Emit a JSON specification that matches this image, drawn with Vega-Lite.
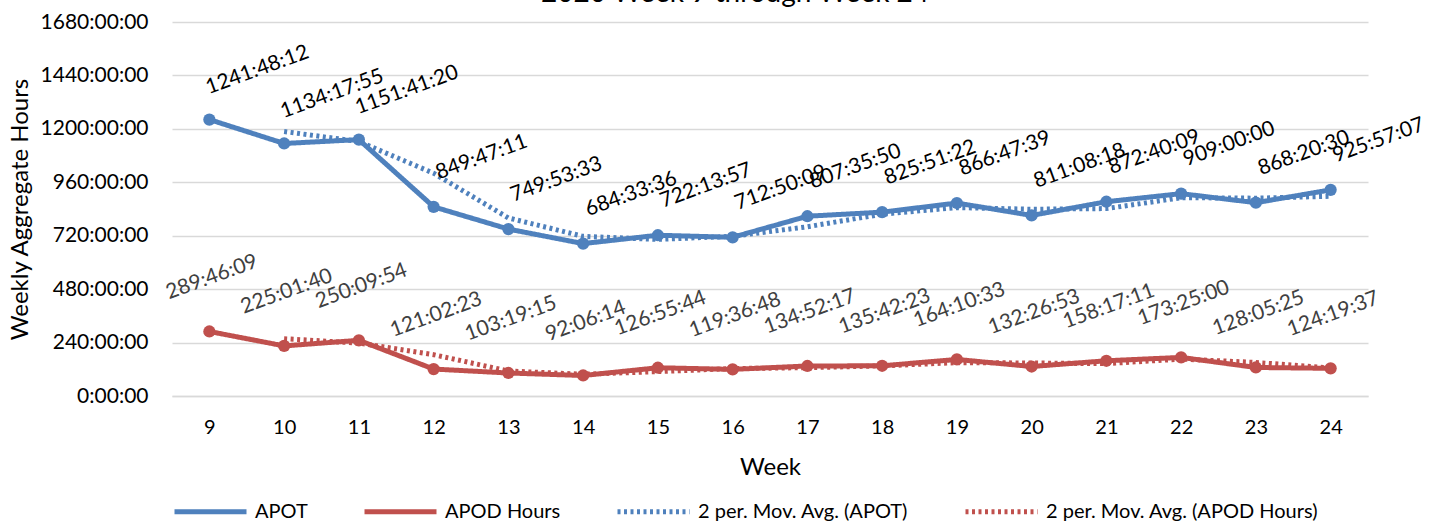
{
  "$schema": "https://vega.github.io/schema/vega-lite/v6.json",
  "width": 1196,
  "height": 374,
  "autosize": "none",
  "padding": {"left": 172, "top": 22, "right": 67, "bottom": 126},
  "background": "white",
  "config": {
    "font": "Lato",
    "view": {"stroke": null},
    "axis": {"labelFont": "Lato", "titleFont": "Lato", "labelColor": "#000000", "titleColor": "#000000", "titleFontWeight": "normal"},
    "legend": {"labelFont": "Lato"}
  },
  "title": {
    "text": "2020 Week 9 through Week 24",
    "fontSize": 28,
    "fontWeight": "normal",
    "font": "Lato",
    "color": "#000000",
    "anchor": "middle",
    "frame": "group",
    "dx": -35,
    "offset": 3
  },
  "data": {
    "values": [
      {"week": 9, "series": "APOT", "hours": 1241.803, "label": "1241:48:12"},
      {"week": 10, "series": "APOT", "hours": 1134.299, "label": "1134:17:55"},
      {"week": 11, "series": "APOT", "hours": 1151.689, "label": "1151:41:20"},
      {"week": 12, "series": "APOT", "hours": 849.786, "label": "849:47:11"},
      {"week": 13, "series": "APOT", "hours": 749.893, "label": "749:53:33"},
      {"week": 14, "series": "APOT", "hours": 684.56, "label": "684:33:36"},
      {"week": 15, "series": "APOT", "hours": 722.233, "label": "722:13:57"},
      {"week": 16, "series": "APOT", "hours": 712.836, "label": "712:50:09"},
      {"week": 17, "series": "APOT", "hours": 807.597, "label": "807:35:50"},
      {"week": 18, "series": "APOT", "hours": 825.856, "label": "825:51:22"},
      {"week": 19, "series": "APOT", "hours": 866.794, "label": "866:47:39"},
      {"week": 20, "series": "APOT", "hours": 811.138, "label": "811:08:18"},
      {"week": 21, "series": "APOT", "hours": 872.669, "label": "872:40:09"},
      {"week": 22, "series": "APOT", "hours": 909.0, "label": "909:00:00"},
      {"week": 23, "series": "APOT", "hours": 868.342, "label": "868:20:30"},
      {"week": 24, "series": "APOT", "hours": 925.952, "label": "925:57:07"},
      {"week": 9, "series": "APOD Hours", "hours": 289.769, "label": "289:46:09"},
      {"week": 10, "series": "APOD Hours", "hours": 225.028, "label": "225:01:40"},
      {"week": 11, "series": "APOD Hours", "hours": 250.165, "label": "250:09:54"},
      {"week": 12, "series": "APOD Hours", "hours": 121.04, "label": "121:02:23"},
      {"week": 13, "series": "APOD Hours", "hours": 103.321, "label": "103:19:15"},
      {"week": 14, "series": "APOD Hours", "hours": 92.104, "label": "92:06:14"},
      {"week": 15, "series": "APOD Hours", "hours": 126.929, "label": "126:55:44"},
      {"week": 16, "series": "APOD Hours", "hours": 119.613, "label": "119:36:48"},
      {"week": 17, "series": "APOD Hours", "hours": 134.871, "label": "134:52:17"},
      {"week": 18, "series": "APOD Hours", "hours": 135.706, "label": "135:42:23"},
      {"week": 19, "series": "APOD Hours", "hours": 164.176, "label": "164:10:33"},
      {"week": 20, "series": "APOD Hours", "hours": 132.448, "label": "132:26:53"},
      {"week": 21, "series": "APOD Hours", "hours": 158.286, "label": "158:17:11"},
      {"week": 22, "series": "APOD Hours", "hours": 173.417, "label": "173:25:00"},
      {"week": 23, "series": "APOD Hours", "hours": 128.09, "label": "128:05:25"},
      {"week": 24, "series": "APOD Hours", "hours": 124.327, "label": "124:19:37"},
      {"week": 10, "series": "2 per. Mov. Avg. (APOT)", "hours": 1188.051},
      {"week": 11, "series": "2 per. Mov. Avg. (APOT)", "hours": 1142.994},
      {"week": 12, "series": "2 per. Mov. Avg. (APOT)", "hours": 1000.738},
      {"week": 13, "series": "2 per. Mov. Avg. (APOT)", "hours": 799.84},
      {"week": 14, "series": "2 per. Mov. Avg. (APOT)", "hours": 717.227},
      {"week": 15, "series": "2 per. Mov. Avg. (APOT)", "hours": 703.397},
      {"week": 16, "series": "2 per. Mov. Avg. (APOT)", "hours": 717.535},
      {"week": 17, "series": "2 per. Mov. Avg. (APOT)", "hours": 760.217},
      {"week": 18, "series": "2 per. Mov. Avg. (APOT)", "hours": 816.727},
      {"week": 19, "series": "2 per. Mov. Avg. (APOT)", "hours": 846.325},
      {"week": 20, "series": "2 per. Mov. Avg. (APOT)", "hours": 838.966},
      {"week": 21, "series": "2 per. Mov. Avg. (APOT)", "hours": 841.904},
      {"week": 22, "series": "2 per. Mov. Avg. (APOT)", "hours": 890.835},
      {"week": 23, "series": "2 per. Mov. Avg. (APOT)", "hours": 888.671},
      {"week": 24, "series": "2 per. Mov. Avg. (APOT)", "hours": 897.147},
      {"week": 10, "series": "2 per. Mov. Avg. (APOD Hours)", "hours": 257.399},
      {"week": 11, "series": "2 per. Mov. Avg. (APOD Hours)", "hours": 237.597},
      {"week": 12, "series": "2 per. Mov. Avg. (APOD Hours)", "hours": 185.603},
      {"week": 13, "series": "2 per. Mov. Avg. (APOD Hours)", "hours": 112.181},
      {"week": 14, "series": "2 per. Mov. Avg. (APOD Hours)", "hours": 97.713},
      {"week": 15, "series": "2 per. Mov. Avg. (APOD Hours)", "hours": 109.517},
      {"week": 16, "series": "2 per. Mov. Avg. (APOD Hours)", "hours": 123.271},
      {"week": 17, "series": "2 per. Mov. Avg. (APOD Hours)", "hours": 127.242},
      {"week": 18, "series": "2 per. Mov. Avg. (APOD Hours)", "hours": 135.289},
      {"week": 19, "series": "2 per. Mov. Avg. (APOD Hours)", "hours": 149.941},
      {"week": 20, "series": "2 per. Mov. Avg. (APOD Hours)", "hours": 148.312},
      {"week": 21, "series": "2 per. Mov. Avg. (APOD Hours)", "hours": 145.367},
      {"week": 22, "series": "2 per. Mov. Avg. (APOD Hours)", "hours": 165.852},
      {"week": 23, "series": "2 per. Mov. Avg. (APOD Hours)", "hours": 150.754},
      {"week": 24, "series": "2 per. Mov. Avg. (APOD Hours)", "hours": 126.209}
    ]
  },
  "encoding": {
    "x": {
      "field": "week",
      "type": "ordinal",
      "scale": {"type": "point", "padding": 0.5},
      "axis": {
        "title": "Week",
        "titleFontSize": 24,
        "titlePadding": 18,
        "labelFontSize": 20,
        "labelAngle": 0,
        "labelPadding": 21,
        "ticks": false,
        "grid": false,
        "domain": true,
        "domainColor": "#D9D9D9",
        "domainWidth": 1.5
      }
    },
    "y": {
      "field": "hours",
      "type": "quantitative",
      "scale": {"domain": [0, 1680], "nice": false, "zero": true},
      "axis": {
        "title": "Weekly Aggregate Hours",
        "titleFontSize": 24,
        "titlePadding": 8,
        "values": [0, 240, 480, 720, 960, 1200, 1440, 1680],
        "labelExpr": "datum.value + ':00:00'",
        "labelFontSize": 21,
        "labelPadding": 24,
        "ticks": false,
        "domain": false,
        "grid": true,
        "gridColor": "#D9D9D9",
        "gridWidth": 1.5
      }
    },
    "color": {
      "field": "series",
      "type": "nominal",
      "scale": {
        "domain": ["APOT", "APOD Hours", "2 per. Mov. Avg. (APOT)", "2 per. Mov. Avg. (APOD Hours)"],
        "range": ["#4F81BD", "#C0504D", "#4F81BD", "#C0504D"]
      },
      "legend": {
        "title": null,
        "orient": "bottom",
        "direction": "horizontal",
        "symbolType": "stroke",
        "labelFontSize": 20,
        "labelColor": "#000000",
        "labelOffset": 6,
        "columnPadding": 46,
        "symbolSize": 5184,
        "offset": -6,
        "padding": 0,
        "labelLimit": 400
      }
    }
  },
  "layer": [
    {
      "transform": [{"filter": "indexof(datum.series, 'Mov') >= 0"}],
      "mark": {"type": "line"},
      "encoding": {
        "strokeDash": {
          "field": "series",
          "type": "nominal",
          "scale": {
            "domain": ["APOT", "APOD Hours", "2 per. Mov. Avg. (APOT)", "2 per. Mov. Avg. (APOD Hours)"],
            "range": [[1, 0], [1, 0], [3, 3.5], [3, 3.5]]
          },
          "legend": {"title": null, "orient": "bottom", "direction": "horizontal", "symbolType": "stroke", "labelFontSize": 20, "labelOffset": 6, "columnPadding": 46, "symbolSize": 5184, "offset": -6, "padding": 0, "labelLimit": 400}
        },
        "strokeWidth": {
          "field": "series",
          "type": "nominal",
          "scale": {
            "domain": ["APOT", "APOD Hours", "2 per. Mov. Avg. (APOT)", "2 per. Mov. Avg. (APOD Hours)"],
            "range": [5, 5, 3, 3]
          },
          "legend": {"title": null, "orient": "bottom", "direction": "horizontal", "symbolType": "stroke", "labelFontSize": 20, "labelOffset": 6, "columnPadding": 46, "symbolSize": 5184, "offset": -6, "padding": 0, "labelLimit": 400}
        }
      }
    },
    {
      "transform": [{"filter": "indexof(datum.series, 'Mov') < 0"}],
      "mark": {"type": "line", "strokeJoin": "round"},
      "encoding": {
        "strokeDash": {"field": "series", "type": "nominal"},
        "strokeWidth": {"field": "series", "type": "nominal"}
      }
    },
    {
      "transform": [{"filter": "indexof(datum.series, 'Mov') < 0"}],
      "mark": {"type": "circle", "size": 150, "opacity": 1}
    },
    {
      "transform": [{"filter": "datum.series === 'APOT'"}],
      "mark": {"type": "text", "angle": -20, "align": "center", "baseline": "middle", "fontSize": 21, "font": "Lato", "dx": 62, "dy": -30},
      "encoding": {"text": {"field": "label"}, "color": {"value": "#000000"}}
    },
    {
      "transform": [{"filter": "datum.series === 'APOD Hours'"}],
      "mark": {"type": "text", "angle": -20, "align": "center", "baseline": "middle", "fontSize": 21, "font": "Lato", "dx": 21, "dy": -50},
      "encoding": {"text": {"field": "label"}, "color": {"value": "#404040"}}
    }
  ]
}
